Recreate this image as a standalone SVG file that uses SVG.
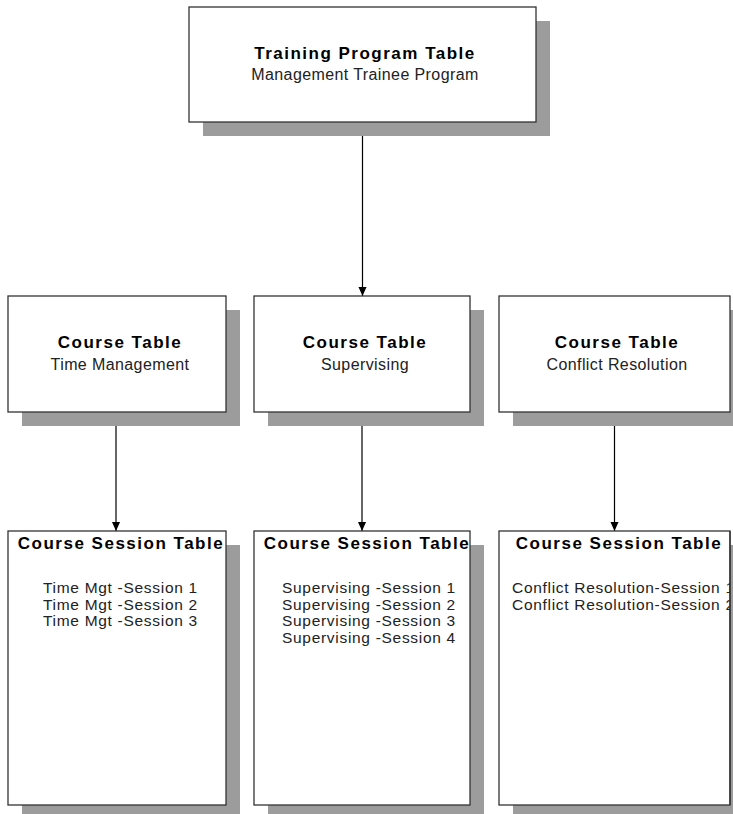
<svg xmlns="http://www.w3.org/2000/svg" width="733" height="814" viewBox="0 0 733 814">
<style>
.shadow{fill:#9c9c9c;stroke:none}
.box{fill:#fff;stroke:#333;stroke-width:1.3}
.title{font-family:"Liberation Sans",Arial,sans-serif;font-weight:bold;font-size:17px;letter-spacing:1.5px;fill:#000;text-anchor:middle}
.sub{font-family:"Liberation Sans",Arial,sans-serif;font-size:16px;letter-spacing:0.4px;fill:#222;text-anchor:middle}
.item{font-family:"Liberation Sans",Arial,sans-serif;font-size:15.5px;letter-spacing:0.7px;fill:#222}
.conn{stroke:#000;stroke-width:1.2;fill:none;marker-end:url(#arr)}
</style>
<defs>
<marker id="arr" viewBox="0 0 10 10" refX="10" refY="5" markerWidth="9" markerHeight="9" markerUnits="userSpaceOnUse" orient="auto">
<path d="M0,0.5 L10,5 L0,9.5 Z" fill="#000"/>
</marker>
<clipPath id="clipR"><rect x="499" y="531" width="231" height="274"/></clipPath>
</defs>
<rect width="733" height="814" fill="#fff"/>
<g id="connectors">
<line class="conn" x1="362.5" y1="122" x2="362.5" y2="296"/>
<line class="conn" x1="116" y1="412" x2="116" y2="531"/>
<line class="conn" x1="362" y1="412" x2="362" y2="531"/>
<line class="conn" x1="614.5" y1="412" x2="614.5" y2="531"/>
</g>
<g id="training-program">
<rect class="shadow" x="203" y="21" width="347" height="115"/>
<rect class="box" x="189" y="7" width="347" height="115"/>
<text class="title" x="365" y="59">Training Program Table</text>
<text class="sub" x="365" y="80">Management Trainee Program</text>
</g>
<g id="course-time">
<rect class="shadow" x="22" y="310" width="218" height="116"/>
<rect class="box" x="8" y="296" width="218" height="116"/>
<text class="title" x="120" y="348">Course Table</text>
<text class="sub" x="120" y="370">Time Management</text>
</g>
<g id="course-supervising">
<rect class="shadow" x="268" y="310" width="216" height="116"/>
<rect class="box" x="254" y="296" width="216" height="116"/>
<text class="title" x="365" y="348">Course Table</text>
<text class="sub" x="365" y="370">Supervising</text>
</g>
<g id="course-conflict">
<rect class="shadow" x="513" y="310" width="231" height="116"/>
<rect class="box" x="499" y="296" width="231" height="116"/>
<text class="title" x="617" y="348">Course Table</text>
<text class="sub" x="617" y="370">Conflict Resolution</text>
</g>
<g id="session-time">
<rect class="shadow" x="22" y="545" width="218" height="274"/>
<rect class="box" x="8" y="531" width="218" height="274"/>
<text class="title" x="121" y="549">Course Session Table</text>
<text class="item" x="43" y="593">Time Mgt -Session 1</text>
<text class="item" x="43" y="609.5">Time Mgt -Session 2</text>
<text class="item" x="43" y="626">Time Mgt -Session 3</text>
</g>
<g id="session-supervising">
<rect class="shadow" x="268" y="545" width="216" height="274"/>
<rect class="box" x="254" y="531" width="216" height="274"/>
<text class="title" x="367" y="549">Course Session Table</text>
<text class="item" x="282" y="593">Supervising -Session 1</text>
<text class="item" x="282" y="609.5">Supervising -Session 2</text>
<text class="item" x="282" y="626">Supervising -Session 3</text>
<text class="item" x="282" y="642.5">Supervising -Session 4</text>
</g>
<g id="session-conflict">
<rect class="shadow" x="513" y="545" width="231" height="274"/>
<rect class="box" x="499" y="531" width="231" height="274"/>
<g clip-path="url(#clipR)">
<text class="title" x="619" y="549">Course Session Table</text>
<text class="item" x="512" y="593">Conflict Resolution-Session 1</text>
<text class="item" x="512" y="609.5">Conflict Resolution-Session 2</text>
</g>
<line x1="730" y1="531" x2="730" y2="805" stroke="#333" stroke-width="1.3"/>
</g>
</svg>
